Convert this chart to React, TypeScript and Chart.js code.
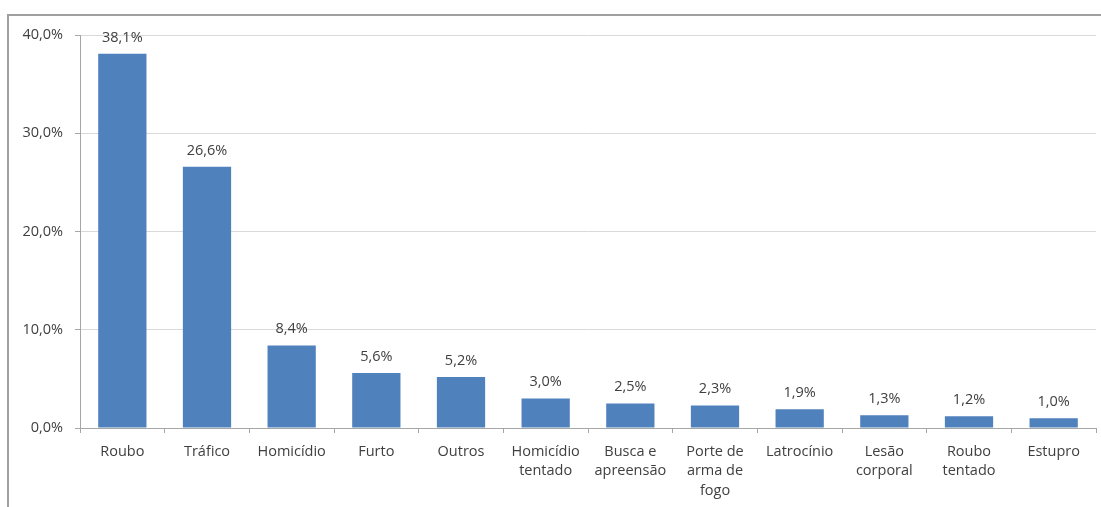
import React, { useEffect, useRef } from "react";
import { Chart, registerables } from "chart.js";

Chart.register(...registerables);

const categories: (string | string[])[] = [
  "Roubo",
  "Tráfico",
  "Homicídio",
  "Furto",
  "Outros",
  ["Homicídio", "tentado"],
  ["Busca e", "apreensão"],
  ["Porte de", "arma de", "fogo"],
  "Latrocínio",
  ["Lesão", "corporal"],
  ["Roubo", "tentado"],
  "Estupro",
];
const values: number[] = [38.1, 26.6, 8.4, 5.6, 5.2, 3.0, 2.5, 2.3, 1.9, 1.3, 1.2, 1.0];
const yTicks: number[] = [0, 10, 20, 30, 40];

const fmt = (v: number) => v.toFixed(1).replace(".", ",") + "%";
const FONT = "'Open Sans', Lato, sans-serif";
const TEXT = "#404040";

const framePlugin = {
  id: "frame",
  beforeDraw(chart: any) {
    const ctx = chart.ctx;
    ctx.save();
    ctx.fillStyle = "#ffffff";
    ctx.fillRect(0, 0, chart.width, chart.height);
    ctx.strokeStyle = "#a0a0a0";
    ctx.lineWidth = 2;
    ctx.beginPath();
    ctx.moveTo(8, chart.height);
    ctx.lineTo(8, 15);
    ctx.lineTo(chart.width, 15);
    ctx.stroke();
    ctx.restore();
  },
};

const labelPlugin = {
  id: "valueLabels",
  afterDatasetsDraw(chart: any) {
    const ctx = chart.ctx;
    const meta = chart.getDatasetMeta(0);
    ctx.save();
    ctx.font = `14.5px ${FONT}`;
    ctx.fillStyle = TEXT;
    ctx.textAlign = "center";
    ctx.textBaseline = "bottom";
    meta.data.forEach((bar: any, i: number) => {
      ctx.fillText(fmt(values[i]), bar.x, bar.y - 9);
    });
    ctx.restore();
  },
};

export default function App() {
  const ref = useRef<HTMLCanvasElement>(null);
  useEffect(() => {
    if (!ref.current) return;
    const chart = new Chart(ref.current, {
      type: "bar",
      data: {
        labels: categories,
        datasets: [
          {
            data: values,
            backgroundColor: "#4f81bd",
            borderWidth: 0,
            barPercentage: 0.57,
            categoryPercentage: 1,
          },
        ],
      },
      options: {
        animation: false,
        responsive: false,
        maintainAspectRatio: false,
        layout: { padding: { top: 35, right: 5, left: 0, bottom: 0 } },
        plugins: { legend: { display: false }, tooltip: { enabled: false } },
        scales: {
          x: {
            grid: {
              offset: true,
              drawOnChartArea: false,
              drawTicks: true,
              tickLength: 5,
              color: "#a6a6a6",
            },
            border: { color: "#a6a6a6" },
            ticks: {
              color: TEXT,
              font: { family: FONT, size: 14.5, lineHeight: 1.35 },
              padding: 9,
              maxRotation: 0,
              autoSkip: false,
            },
            afterFit(scale: any) {
              scale.height = 79;
            },
          },
          y: {
            min: 0,
            max: 40,
            afterBuildTicks(scale: any) {
              scale.ticks = yTicks.map((v) => ({ value: v }));
            },
            grid: {
              color: "#d9d9d9",
              tickLength: 5,
              tickColor: "#a6a6a6",
            },
            border: { color: "#a6a6a6" },
            ticks: {
              color: TEXT,
              font: { family: FONT, size: 14.5 },
              padding: 12,
              callback: (v: any) => fmt(Number(v)),
            },
            afterFit(scale: any) {
              scale.width = 80;
            },
          },
        },
      },
      plugins: [framePlugin, labelPlugin],
    });
    return () => chart.destroy();
  }, []);
  return (
    <div style={{ position: "fixed", left: 0, top: 0, width: 1101, height: 507, background: "#fff" }}>
      <canvas ref={ref} width={1101} height={507} style={{ width: 1101, height: 507 }} />
    </div>
  );
}
